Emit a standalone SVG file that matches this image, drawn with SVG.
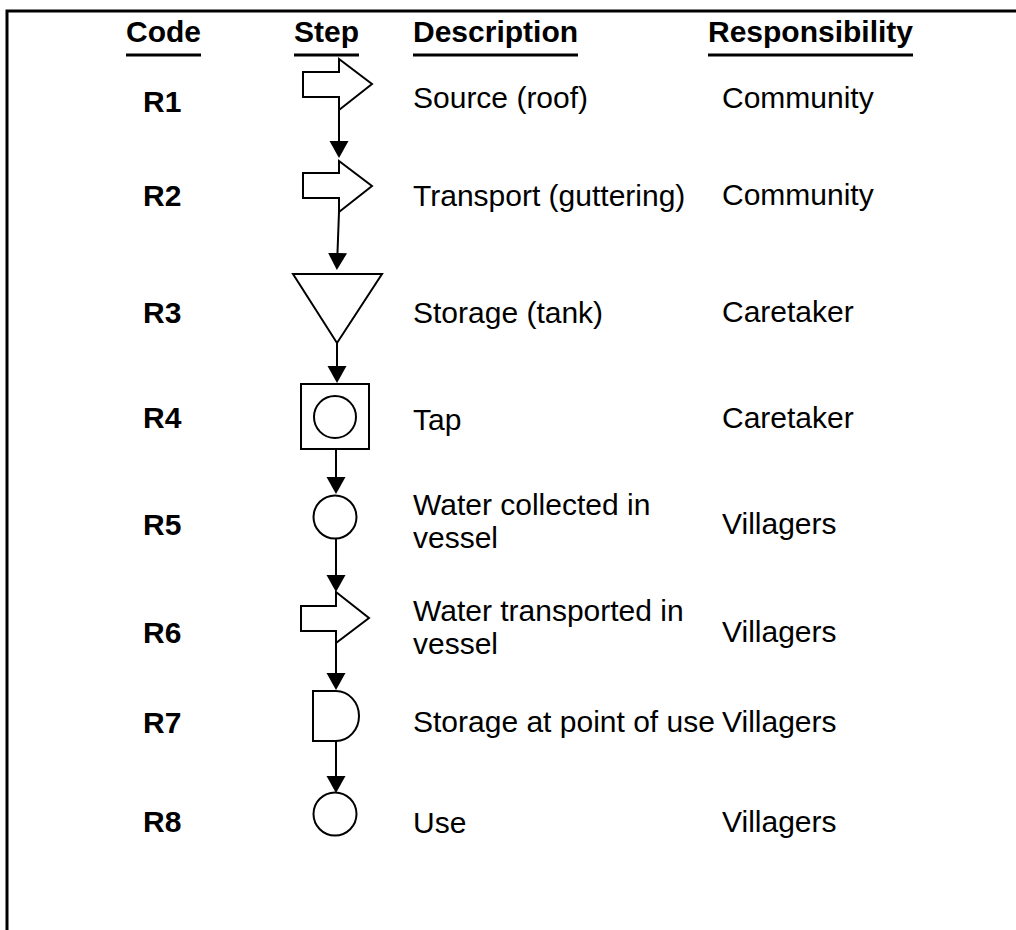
<svg xmlns="http://www.w3.org/2000/svg" width="1016" height="930" viewBox="0 0 1016 930">
  <style>
    text { font-family: "Liberation Sans", Arial, sans-serif; font-size: 30px; fill: #000; }
    .hdr { font-weight: bold; }
    .code { font-weight: bold; }
    .ul { stroke: #000; stroke-width: 3; }
    .shape { fill: #fff; stroke: #000; stroke-width: 2; }
    .conn { stroke: #000; stroke-width: 2; fill: none; marker-end: url(#head); }
    .frame { stroke: #000; stroke-width: 3; fill: none; }
  </style>
  <defs>
    <marker id="head" markerUnits="userSpaceOnUse" markerWidth="17" markerHeight="20" viewBox="0 0 17 20" refX="13" refY="10" orient="auto">
      <path d="M0,0.5 L17,10 L0,19.5 Z" fill="#000"/>
    </marker>
  </defs>

  <rect width="1016" height="930" fill="#fff"/>

  <!-- open frame: top and left edges -->
  <path class="frame" d="M7,930 V11 H1016"/>

  <!-- column headings -->
  <g id="headings">
    <text class="hdr" x="126" y="42">Code</text>
    <line class="ul" x1="126" y1="55" x2="201" y2="55"/>
    <text class="hdr" x="294" y="42">Step</text>
    <line class="ul" x1="294" y1="55" x2="359" y2="55"/>
    <text class="hdr" x="413" y="42">Description</text>
    <line class="ul" x1="413" y1="55" x2="578" y2="55"/>
    <text class="hdr" x="708" y="42">Responsibility</text>
    <line class="ul" x1="708" y1="55" x2="913" y2="55"/>
  </g>

  <!-- connectors between steps -->
  <g id="connectors">
    <line class="conn" x1="339" y1="110" x2="339" y2="154"/>
    <line class="conn" x1="339" y1="212" x2="337" y2="266"/>
    <line class="conn" x1="337" y1="343" x2="337" y2="379"/>
    <line class="conn" x1="336" y1="449" x2="336" y2="490"/>
    <line class="conn" x1="336" y1="538" x2="336" y2="588"/>
    <line class="conn" x1="336" y1="643" x2="336" y2="686"/>
    <line class="conn" x1="336" y1="741" x2="336" y2="789"/>
  </g>

  <g id="R1">
    <text class="code" x="143" y="112">R1</text>
    <polygon class="shape" points="303,72 339,72 339,59 372,84 339,110 339,97 303,97"/>
    <text x="413" y="108">Source (roof)</text>
    <text x="722" y="108">Community</text>
  </g>

  <g id="R2">
    <text class="code" x="143" y="206">R2</text>
    <polygon class="shape" points="303,173 339,173 339,161 372,186 339,212 339,198 303,198"/>
    <text x="413" y="206">Transport (guttering)</text>
    <text x="722" y="205">Community</text>
  </g>

  <g id="R3">
    <text class="code" x="143" y="323">R3</text>
    <polygon class="shape" points="293,274 382,274 337,343"/>
    <text x="413" y="323">Storage (tank)</text>
    <text x="722" y="322">Caretaker</text>
  </g>

  <g id="R4">
    <text class="code" x="143" y="428">R4</text>
    <rect class="shape" x="301" y="384" width="68" height="65"/>
    <circle class="shape" cx="335" cy="417" r="21"/>
    <text x="413" y="430">Tap</text>
    <text x="722" y="428">Caretaker</text>
  </g>

  <g id="R5">
    <text class="code" x="143" y="535">R5</text>
    <circle class="shape" cx="335" cy="517" r="21.5"/>
    <text x="413" y="515">Water collected in</text>
    <text x="413" y="548">vessel</text>
    <text x="722" y="534">Villagers</text>
  </g>

  <g id="R6">
    <text class="code" x="143" y="643">R6</text>
    <polygon class="shape" points="301,606 336,606 336,592 369,618 336,643 336,631 301,631"/>
    <text x="413" y="621">Water transported in</text>
    <text x="413" y="654">vessel</text>
    <text x="722" y="642">Villagers</text>
  </g>

  <g id="R7">
    <text class="code" x="143" y="733">R7</text>
    <path class="shape" d="M313,691 H336 A23,25 0 0 1 336,741 H313 Z"/>
    <text x="413" y="732">Storage at point of use</text>
    <text x="722" y="732">Villagers</text>
  </g>

  <g id="R8">
    <text class="code" x="143" y="832">R8</text>
    <circle class="shape" cx="335" cy="814" r="21.5"/>
    <text x="413" y="833">Use</text>
    <text x="722" y="832">Villagers</text>
  </g>
</svg>
